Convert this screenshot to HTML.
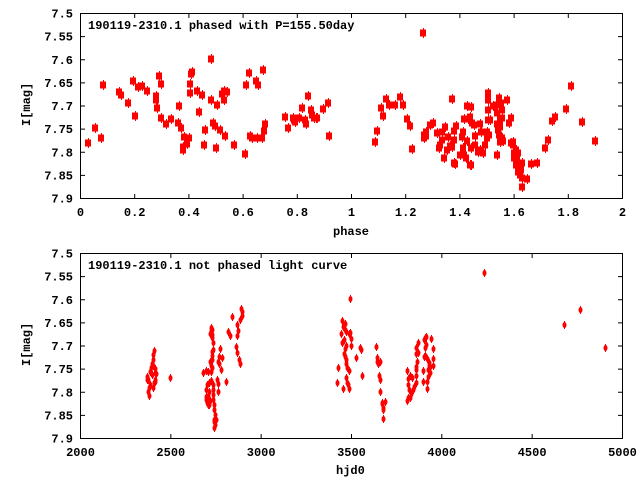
<!DOCTYPE html>
<html><head><meta charset="utf-8"><style>
html,body{margin:0;padding:0;background:#fff;}
svg{display:block;}
text{font-family:"Liberation Mono",monospace;font-weight:bold;font-size:12px;fill:#000;}
</style></head><body>
<svg id="s" width="640" height="480" xmlns="http://www.w3.org/2000/svg">
<rect width="640" height="480" fill="#fff"/>
<g id="frames" stroke="#000" stroke-width="1" fill="none">
<rect x="80.5" y="13.5" width="542" height="185"/>
<rect x="80.5" y="253.5" width="542" height="185"/>
</g>
<g id="ticks" stroke="#000" stroke-width="1"></g>
<g id="labels">
<text x="88" y="29">190119-2310.1 phased with P=155.50day</text>
<text x="88" y="269">190119-2310.1 not phased light curve</text>
<text x="333" y="235">phase</text>
<text x="336" y="474">hjd0</text>
<text transform="translate(30,126) rotate(-90)">I[mag]</text>
<text transform="translate(30,366) rotate(-90)">I[mag]</text>
</g>
<g id="pts" fill="#f00" stroke="#f00"></g>
</svg>
<script>
(function(){
var ns="http://www.w3.org/2000/svg";
function el(p,tag,a,txt){var e=document.createElementNS(ns,tag);for(var k in a)e.setAttribute(k,a[k]);if(txt)e.textContent=txt;document.getElementById(p).appendChild(e);}
var ylab=["7.5","7.55","7.6","7.65","7.7","7.75","7.8","7.85","7.9"];
[13.5,253.5].forEach(function(t0){
 for(var i=0;i<9;i++){var y=t0+i*185/8;
  el("ticks","line",{x1:80.5,x2:85,y1:y,y2:y});el("ticks","line",{x1:618,x2:622.5,y1:y,y2:y});
  el("labels","text",{x:73,y:y+4,"text-anchor":"end"},ylab[i]);}
});
var xl1=["0","0.2","0.4","0.6","0.8","1","1.2","1.4","1.6","1.8","2"];
for(var i=0;i<=10;i++){var x=80.5+i*54.2;
 el("ticks","line",{x1:x,x2:x,y1:198.5,y2:194});el("ticks","line",{x1:x,x2:x,y1:13.5,y2:18});
 el("labels","text",{x:x,y:216,"text-anchor":"middle"},xl1[i]);}
var xl2=["2000","2500","3000","3500","4000","4500","5000"];
for(var i=0;i<=6;i++){var x=80.5+i*90.33;
 el("ticks","line",{x1:x,x2:x,y1:438.5,y2:434});el("ticks","line",{x1:x,x2:x,y1:253.5,y2:258});
 el("labels","text",{x:x,y:456,"text-anchor":"middle"},xl2[i]);}
var ptsTop=[[88,143],[95,128],[101,138],[103,85],[119,92],[121,95],[128,103],[133,81],[135,116],[138,87],[142,86],[147,91],[156,96],[157,108],[156,100],[159,76],[161,118],[161,84],[166,124],[171,119],[178,123],[179,106],[181,128],[183,147],[183,150],[184,137],[187,144],[189,138],[190,84],[191,74],[190,93],[192,72],[197,91],[199,112],[202,95],[204,145],[205,130],[211,59],[211,100],[213,123],[215,126],[216,148],[217,105],[220,130],[222,94],[224,100],[224,91],[225,136],[227,92],[234,145],[245,154],[246,85],[249,73],[250,136],[252,138],[256,81],[258,85],[257,138],[262,138],[263,70],[264,131],[265,124],
[285,117],[288,128],[293,118],[294,120],[295,122],[299,118],[302,108],[305,120],[306,124],[308,96],[311,110],[312,115],[314,118],[316,118],[317,118],[323,109],[328,103],[329,136],
[375,142],[377,131],[381,108],[383,116],[386,99],[389,105],[395,105],[400,97],[403,105],[407,119],[410,126],[412,149],[423,33],[424,138],[424,135],[426,136],[426,132],[430,125],[433,123],[437,133],[439,148],[440,145],[442,140],[442,132],[445,127],[448,137],[450,146],[447,150],[444,158],[452,99],[454,131],[452,147],[454,140],[455,164],[456,126],[460,155],[462,137],[463,148],[463,132],[464,155],[466,158],[467,141],[468,119],[467,106],[471,107],[470,117],[472,123],[471,148],[471,165],[474,125],[475,136],[475,145],[478,152],[480,124],[481,132],[480,150],[483,153],[487,132],[488,120],[485,145],[487,138],[488,110],[490,120],[488,93],[488,100],[493,106],[496,105],[497,113],[497,124],[498,130],[499,135],[500,127],[500,142],[502,138],[503,141],[497,155],[489,135],[464,119],[454,163],[470,165],[499,98],[501,103],[502,110],[502,118],[500,120],[507,100],[509,123],[511,118],[511,143],[513,145],[514,153],[515,156],[517,160],[519,164],[516,150],[518,153],[520,170],[521,170],[522,163],[513,142],[514,158],[516,165],[518,172],[520,175],[522,178],[527,179],[522,187],[531,164],[537,163],[545,148],[548,140],[552,121],[555,117],[566,109],[571,86],[582,122],[595,141]];
ptsTop.forEach(function(p){el("pts","rect",{x:p[0]-3,y:p[1]-3.5,width:6,height:7,stroke:"none"});el("pts","line",{x1:p[0]+0.5,x2:p[0]+0.5,y1:p[1]-5,y2:p[1]+5,"stroke-width":1});});
var ptsBot=[[147,377],[147,380],[148,392],[149,388],[150,385],[149,396],[151,368],[152,364],[150,372],[153,366],[152,375],[153,360],[153,355],[154,351],[155,369],[155,373],[156,374],[155,380],[154,383],[148,380],[153,388],[155,382],[170,378],
[203,373],[206,371],[208,372],[209,383],[207,385],[206,390],[206,397],[206,400],[207,403],[208,405],[209,405],[210,401],[208,396],[209,392],[211,381],[211,372],[210,362],[212,352],[212,338],[210,334],[211,331],[211,328],[212,330],[212,335],[213,343],[213,350],[212,356],[212,360],[211,366],[212,368],[213,385],[213,390],[213,395],[213,400],[214,405],[214,410],[215,415],[214,420],[215,425],[214,422],[216,420],[214,428],[218,392],[217,380],[218,384],[219,364],[219,357],[218,362],[220,349],[222,358],[221,370],[226,382],[228,332],[232,317],[230,336],[237,336],[236,347],[239,360],[240,364],[237,353],[237,325],[240,320],[242,312],[241,309],[242,316],[238,331],
[350,299],[342,321],[345,324],[343,327],[345,330],[346,332],[341,334],[349,334],[350,333],[342,343],[344,340],[345,349],[346,346],[344,354],[351,346],[351,339],[360,348],[361,350],[345,357],[346,360],[346,364],[347,368],[349,371],[338,368],[356,358],[362,376],[346,378],[347,383],[348,385],[349,389],[337,383],[343,389],[376,347],[377,358],[377,362],[378,364],[380,362],[379,376],[380,380],[380,392],[382,403],[382,404],[383,408],[383,410],[385,402],[383,419],[407,371],[410,376],[408,379],[408,385],[412,378],[409,390],[408,398],[407,401],[410,398],[411,394],[413,390],[414,387],[416,383],[416,376],[416,370],[416,367],[418,343],[416,348],[418,353],[417,362],[416,354],[425,338],[426,337],[424,340],[425,348],[426,345],[431,339],[433,349],[424,357],[425,356],[427,359],[429,363],[429,366],[428,370],[430,367],[433,366],[433,359],[428,377],[430,373],[423,371],[423,382],[427,389],[427,382],
[484,273],[564,325],[580,310],[605,348]];
ptsBot.forEach(function(p){el("pts","ellipse",{cx:p[0]+0.5,cy:p[1],rx:2,ry:3,stroke:"none"});el("pts","line",{x1:p[0]+0.5,x2:p[0]+0.5,y1:p[1]-4,y2:p[1]+4,"stroke-width":1});});
})();
</script>
</body></html>
